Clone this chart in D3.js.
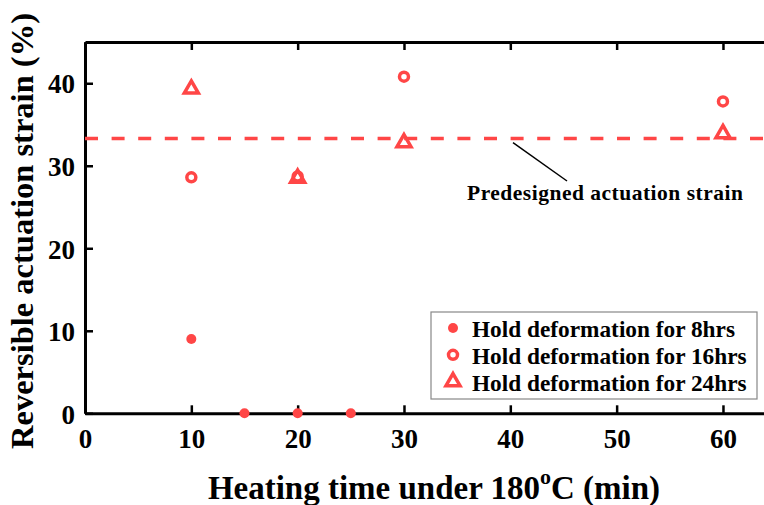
<!DOCTYPE html>
<html>
    <head>
        <title>Actuation strain</title>
        <script src='https://cdn.jsdelivr.net/npm/d3@7/dist/d3.min.js'></script>
        <style>
            body { margin: 0; background: #fff; }
            svg { display: block; font-family: 'Liberation Serif', 'Times New Roman', serif; font-weight: bold; }
        </style>
    </head>
    <body>
        <svg width='764' height='505'></svg>
        <script>
            // values
            const hold8 = [[10, 9.0], [15, 0], [20, 0], [25, 0]]
            const hold16 = [[10, 28.6], [20, 28.7], [30, 40.8], [60, 37.8]]
            const hold24 = [[10, 39.3], [20, 28.5], [30, 32.8], [60, 33.9]]
            const designStrain = 33.3
            const xTicks = [0, 10, 20, 30, 40, 50, 60]
            const yTicks = [0, 10, 20, 30, 40]
            const legendLabels = ['Hold deformation for 8hrs', 'Hold deformation for 16hrs', 'Hold deformation for 24hrs']

            const red = '#ff4646'
            const svg = d3.select('svg')
            const margin = {top: 42, left: 85, bottom: 413.3, right: 765.5}

            const xScale = d3.scaleLinear().domain([0, 64]).range([margin.left, margin.right])
            const yScale = d3.scaleLinear().domain([0, 45]).range([margin.bottom, margin.top])

            // axes (inward ticks)
            const xAxis = svg.append('g')
                .attr('transform', `translate(0, ${margin.bottom})`)
                .call(d3.axisBottom(xScale).tickValues(xTicks).tickSizeInner(-8).tickSizeOuter(0).tickPadding(16))
            const topAxis = svg.append('g')
                .attr('transform', `translate(0, ${margin.top})`)
                .call(d3.axisTop(xScale).tickValues(xTicks).tickSizeInner(-8).tickSizeOuter(0).tickFormat(''))
            const yAxis = svg.append('g')
                .attr('transform', `translate(${margin.left}, 0)`)
                .call(d3.axisLeft(yScale).tickValues(yTicks).tickSizeInner(-8).tickSizeOuter(0).tickPadding(10))

            svg.selectAll('.domain').attr('stroke', '#000').attr('stroke-width', 3)
            svg.selectAll('.tick line').attr('stroke', '#000').attr('stroke-width', 2.5)
            svg.selectAll('.tick text')
                .attr('font-family', "'Liberation Serif', serif")
                .attr('font-weight', 'bold')
                .attr('font-size', 27)
                .attr('fill', '#000')
            yAxis.selectAll('.tick text').attr('dy', '0.36em')

            // predesigned strain line
            svg.append('line')
                .attr('x1', margin.left).attr('x2', 764)
                .attr('y1', yScale(designStrain)).attr('y2', yScale(designStrain))
                .attr('stroke', red).attr('stroke-width', 3.5)
                .attr('stroke-dasharray', '13,13.6')

            svg.append('line')
                .attr('x1', 513).attr('y1', yScale(designStrain) + 4)
                .attr('x2', 567).attr('y2', 181)
                .attr('stroke', '#000').attr('stroke-width', 1.5)
            svg.append('text')
                .attr('x', 467).attr('y', 200)
                .attr('font-size', 21.5)
                .attr('letter-spacing', 0.5)
                .text('Predesigned actuation strain')

            // markers
            const tri = d3.symbol().type(d3.symbolTriangle).size(85)
            svg.append('g').selectAll('circle')
                .data(hold8)
                .join('circle')
                .attr('cx', d => xScale(d[0]))
                .attr('cy', d => yScale(d[1]))
                .attr('r', 5)
                .attr('fill', red)
            svg.append('g').selectAll('circle')
                .data(hold16)
                .join('circle')
                .attr('cx', d => xScale(d[0]))
                .attr('cy', d => yScale(d[1]))
                .attr('r', 4.5)
                .attr('fill', 'none')
                .attr('stroke', red).attr('stroke-width', 3.5)
            svg.append('g').selectAll('path')
                .data(hold24)
                .join('path')
                .attr('transform', d => `translate(${xScale(d[0])}, ${yScale(d[1])})`)
                .attr('d', tri)
                .attr('fill', 'none')
                .attr('stroke', red).attr('stroke-width', 3.5)
                .attr('stroke-linejoin', 'miter')

            // legend
            const legend = svg.append('g')
            legend.append('rect')
                .attr('x', 431).attr('y', 312).attr('width', 326).attr('height', 87)
                .attr('fill', '#fff').attr('stroke', '#888').attr('stroke-width', 1.2)
            const rowY = i => 328 + i * 26.8
            legend.append('circle').attr('cx', 453).attr('cy', rowY(0)).attr('r', 5).attr('fill', red)
            legend.append('circle').attr('cx', 453).attr('cy', rowY(1)).attr('r', 4.5)
                .attr('fill', 'none').attr('stroke', red).attr('stroke-width', 3.5)
            legend.append('path').attr('transform', `translate(453, ${rowY(2)})`).attr('d', tri)
                .attr('fill', 'none').attr('stroke', red).attr('stroke-width', 3.5)
            legend.selectAll('text.lab')
                .data(legendLabels)
                .join('text')
                .attr('class', 'lab')
                .attr('x', 472)
                .attr('y', (d, i) => rowY(i) + 9)
                .attr('font-size', 23.3)
                .text(d => d)

            // axis titles
            const xTitle = svg.append('text')
                .attr('x', 434).attr('y', 499)
                .attr('text-anchor', 'middle')
                .attr('font-size', 33)
            xTitle.append('tspan').text('Heating time under 180')
            xTitle.append('tspan').attr('font-size', 22).attr('dy', -15).text('o')
            xTitle.append('tspan').attr('dy', 15).text('C (min)')

            svg.append('text')
                .attr('transform', 'translate(33, 231) rotate(-90)')
                .attr('text-anchor', 'middle')
                .attr('font-size', 32.5)
                .text('Reversible actuation strain (%)')
        </script>
    </body>
</html>
